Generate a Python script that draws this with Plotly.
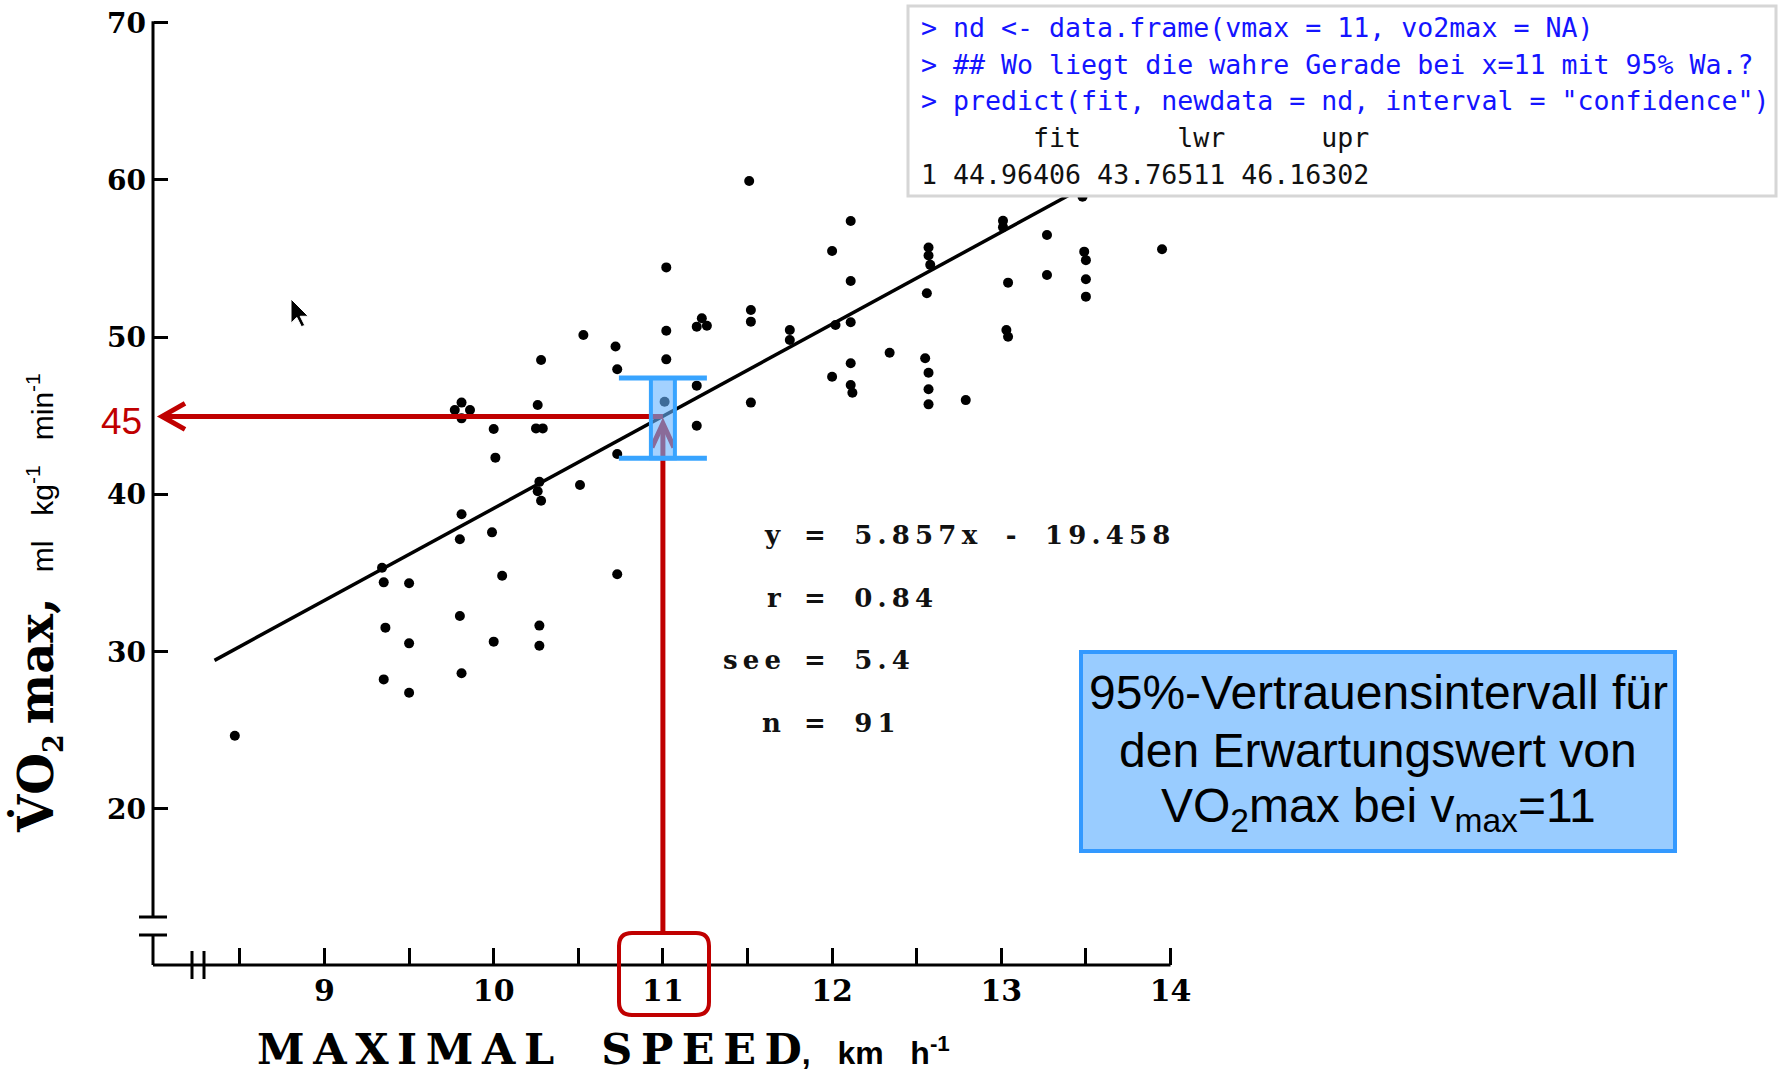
import plotly.graph_objects as go

W, H = 1779, 1074

# ---------------- data ----------------
vmax = [10.53, 10.72, 10.28, 10.73, 9.81, 9.77, 9.86, 9.81, 10.26, 10.00, 10.25, 10.29, 10.01, 10.73,
        10.27, 10.26, 10.28, 10.51, 9.81, 9.99, 9.80, 9.34, 9.35, 9.50, 10.05, 10.73, 9.80, 9.36,
        9.50, 10.00, 10.27, 10.27, 9.81, 9.35, 9.50, 8.47,
        11.51, 12.11, 12.00, 11.02, 12.11, 11.52, 11.52, 11.02, 11.20, 11.23, 11.26, 11.75, 11.75,
        12.02, 12.11, 11.02, 12.34, 12.11, 12.00, 12.11, 12.12, 11.20, 11.01, 11.52, 11.20,
        12.57, 12.57, 12.58, 13.01, 13.01, 13.27, 13.48, 13.49, 13.50, 13.95, 12.56, 13.04, 13.27,
        13.50, 13.50, 13.03, 13.04, 12.55, 12.57, 12.57, 12.57, 12.79]
vo2max = [50.14, 49.41, 48.55, 47.96, 45.84, 45.37, 45.37, 44.84, 45.69, 44.16, 44.20, 44.20, 42.34, 42.57,
          40.80, 40.20, 39.60, 40.60, 38.74, 37.59, 37.15, 35.34, 34.41, 34.35, 34.83, 34.92, 32.27, 31.53,
          30.53, 30.64, 31.66, 30.38, 28.63, 28.24, 27.39, 24.66,
          59.93, 57.39, 55.48, 54.44, 53.57, 51.73, 50.99, 50.41, 50.67, 51.20, 50.73, 50.46, 49.82,
          50.78, 50.95, 48.59, 49.01, 48.34, 47.49, 46.96, 46.47, 46.92, 45.90, 45.84, 44.37,
          55.70, 55.20, 54.60, 57.40, 57.00, 56.50, 58.93, 55.44, 54.90, 55.59, 52.79, 53.47, 53.96,
          53.68, 52.58, 50.46, 50.03, 48.66, 47.74, 46.69, 45.73, 46.00]

line_vmax = [8.35, 13.6]          # regression line ends
line_vo2 = [29.45, 60.2]

x_query = 11                      # vmax = 11
fit_value = 44.96406              # predicted VO2max
bar_low = 42.3                    # drawn interval ends (as painted)
bar_high = 47.4
label_value = "45"

x_tickvals = [9, 10, 11, 12, 13, 14]
x_ticktext = ["9", "10", "11", "12", "13", "14"]
x_minor_tickvals = [8.5, 9.5, 10.5, 11.5, 12.5, 13.5]
y_tickvals = [20, 30, 40, 50, 60, 70]
y_ticktext = ["20", "30", "40", "50", "60", "70"]

r_input_lines = ['> nd <- data.frame(vmax = 11, vo2max = NA)',
                 '> ## Wo liegt die wahre Gerade bei x=11 mit 95% Wa.?',
                 '> predict(fit, newdata = nd, interval = "confidence")']
r_output_lines = ['       fit      lwr      upr',
                  '1 44.96406 43.76511 46.16302']

stat_names = ["y", "r", "see", "n"]
stat_values = ["= 5.857x - 19.458", "= 0.84", "= 5.4", "= 91"]

info_lines = ["95%-Vertrauensintervall für",
              "den Erwartungswert von",
              "VO<sub>2</sub>max bei v<sub>max</sub>=11"]

# ---------------- pixel calibration of the picture ----------------
PX_X9, PX_PER_X = 324.5, 169.2     # x = 9 at px 324.5
PY_Y70, PX_PER_Y = 22.7, 15.725    # y = 70 at py 22.7
AXIS_PX, AXIS_PY = 153, 965        # y-axis line / x-axis line


def X(px):
    return 9 + (px - PX_X9) / PX_PER_X


def Y(py):
    return 70 - (py - PY_Y70) / PX_PER_Y


def P(px, py):
    return px / W, 1 - py / H


def spaced(s):
    return "\u2009".join("\u00a0\u00a0" if c == " " else c for c in s)


def pre(s):
    return s.replace("&", "&amp;").replace("<", "&lt;").replace(">", "&gt;").replace(" ", "\u00a0")


RED = "#C00000"
BLUE_LINE = "#38A4FF"

fig = go.Figure()
fig.add_trace(go.Scatter(x=line_vmax, y=line_vo2, mode="lines",
                         line=dict(color="black", width=3.5), hoverinfo="skip"))
fig.add_trace(go.Scatter(x=vmax, y=vo2max, mode="markers",
                         marker=dict(color="black", size=10, line=dict(width=0))))

shapes = []
xa = X(AXIS_PX)
ya = Y(AXIS_PY)
# hand-drawn axes with breaks
shapes.append(dict(type="line", x0=xa, x1=xa, y0=70.1, y1=Y(917), line=dict(color="black", width=3)))
shapes.append(dict(type="line", x0=xa, x1=xa, y0=Y(935), y1=ya, line=dict(color="black", width=3)))
for py in (917, 935):
    shapes.append(dict(type="line", x0=X(139), x1=X(167), y0=Y(py), y1=Y(py), line=dict(color="black", width=3)))
shapes.append(dict(type="line", x0=xa, x1=14, y0=ya, y1=ya, line=dict(color="black", width=3)))
for px in (192, 204):
    shapes.append(dict(type="line", x0=X(px), x1=X(px), y0=Y(951), y1=Y(979), line=dict(color="black", width=3)))

# red arrows (below the translucent interval bar)
tip_x = X(162)
shapes.append(dict(type="line", x0=x_query, x1=tip_x + 0.02, y0=fit_value, y1=fit_value,
                   line=dict(color=RED, width=5)))
dx, dy = 23 / PX_PER_X, 13 / PX_PER_Y
shapes.append(dict(type="path", path=f"M {tip_x+dx},{fit_value+dy} L {tip_x},{fit_value} L {tip_x+dx},{fit_value-dy}",
                   line=dict(color=RED, width=5)))
v_tip = fit_value - 7 / PX_PER_Y
v_bottom = Y(933)
shapes.append(dict(type="line", x0=x_query, x1=x_query, y0=v_bottom, y1=v_tip - 0.1,
                   line=dict(color=RED, width=5)))
dx2, dy2 = 11 / PX_PER_X, 24 / PX_PER_Y
shapes.append(dict(type="path", path=f"M {x_query-dx2},{v_tip-dy2} L {x_query},{v_tip} L {x_query+dx2},{v_tip-dy2}",
                   line=dict(color=RED, width=5)))

# rounded red box around the "11" tick label
xl, xr_, yt, yb = X(619), X(709), Y(933), Y(1015)
rx, ry = 13 / PX_PER_X, 13 / PX_PER_Y
shapes.append(dict(type="path", line=dict(color=RED, width=4),
                   path=(f"M {xl+rx},{yt} L {xr_-rx},{yt} Q {xr_},{yt} {xr_},{yt-ry} L {xr_},{yb+ry} "
                         f"Q {xr_},{yb} {xr_-rx},{yb} L {xl+rx},{yb} Q {xl},{yb} {xl},{yb+ry} "
                         f"L {xl},{yt-ry} Q {xl},{yt} {xl+rx},{yt} Z")))

# interval bar
hw, cw = 12 / PX_PER_X, 44 / PX_PER_X
shapes.append(dict(type="rect", x0=x_query - hw, x1=x_query + hw, y0=bar_low, y1=bar_high,
                   fillcolor="rgba(102,179,255,0.6)", line=dict(color=BLUE_LINE, width=4)))
for yv in (bar_low, bar_high):
    shapes.append(dict(type="line", x0=x_query - cw, x1=x_query + cw, y0=yv, y1=yv,
                       line=dict(color=BLUE_LINE, width=5)))

# R console box
bx0, by0 = P(908, 6)
bx1, by1 = P(1776, 196)
shapes.append(dict(type="rect", xref="paper", yref="paper", x0=bx0, x1=bx1, y0=by1, y1=by0,
                   fillcolor="white", line=dict(color="#D6D6D6", width=3)))
# info box
ix0, iy0 = P(1081, 652)
ix1, iy1 = P(1675, 851)
shapes.append(dict(type="rect", xref="paper", yref="paper", x0=ix0, x1=ix1, y0=iy1, y1=iy0,
                   fillcolor="#99CCFF", line=dict(color="#3399FF", width=4)))

# mouse cursor
cur = [(0, 0), (0, 21), (5, 16), (9, 24), (12, 23), (8, 15), (15, 15)]
pts = [P(291 + 1.15 * a, 299 + 1.15 * b) for a, b in cur]
path = "M " + " L ".join(f"{u},{v}" for u, v in pts) + " Z"
shapes.append(dict(type="path", xref="paper", yref="paper", path=path,
                   fillcolor="black", line=dict(color="white", width=1)))

for s in shapes:
    s.setdefault("xref", "x")
    s.setdefault("yref", "y")
    s.setdefault("layer", "above")

ann = []
# y-axis title
ytitle = ("V\u0307O<sub><span style='font-size:27px'>2</span></sub>\u2009max,"
          "<span style='font-family:Liberation Sans;font-size:30px;font-weight:normal'>"
          "\u00a0\u00a0\u00a0ml\u00a0\u00a0\u00a0kg<sup>-1</sup>\u00a0\u00a0\u00a0min<sup>-1</sup></span>")
ax_, ay_ = P(38, 603)
ann.append(dict(xref="paper", yref="paper", x=ax_, y=ay_, text=ytitle, textangle=-90, showarrow=False,
                xanchor="center", yanchor="middle",
                font=dict(family="DejaVu Serif", size=48, color="black", weight="bold")))
# x-axis title
thin = "\u2009"
xt_main = thin.join(c if c != " " else "\u00a0\u00a0" for c in "MAXIMAL SPEED")
xtitle = (xt_main + "<span style='font-family:Liberation Sans;font-size:32px'>,\u00a0\u00a0\u00a0km"
          "\u00a0\u00a0\u00a0h<sup>-1</sup></span>")
tx, ty = P(255, 1049)
ann.append(dict(xref="paper", yref="paper", x=tx, y=ty, text=xtitle, showarrow=False,
                xanchor="left", yanchor="middle",
                font=dict(family="DejaVu Serif", size=43, color="black", weight="bold")))
# red 45 label
lx, ly = P(121, 421)
ann.append(dict(xref="paper", yref="paper", x=lx, y=ly, text=label_value, showarrow=False,
                xanchor="center", yanchor="middle",
                font=dict(family="Liberation Sans", size=37, color=RED)))
# regression statistics
for i, (nm, val) in enumerate(zip(stat_names, stat_values)):
    py = 535 + i * 62.7
    nx, ny = P(783, py)
    ann.append(dict(xref="paper", yref="paper", x=nx, y=ny, text=spaced(nm), showarrow=False,
                    xanchor="right", yanchor="middle",
                    font=dict(family="DejaVu Serif", size=26, color="#111111", weight="bold")))
    vx, vy = P(802, py)
    ann.append(dict(xref="paper", yref="paper", x=vx, y=vy, text=spaced(val), showarrow=False,
                    xanchor="left", yanchor="middle",
                    font=dict(family="DejaVu Serif", size=26, color="#111111", weight="bold")))
# R console text
r_all = [(t, "#1414FF") for t in r_input_lines] + [(t, "#111111") for t in r_output_lines]
for i, (t, col) in enumerate(r_all):
    rx_, ry_ = P(919, 28 + i * 36.5)
    ann.append(dict(xref="paper", yref="paper", x=rx_, y=ry_, text=pre(t), showarrow=False,
                    xanchor="left", yanchor="middle",
                    font=dict(family="DejaVu Sans Mono", size=26.6, color=col)))
# info box text
for i, t in enumerate(info_lines):
    cx, cy = P(1378, 692 + i * 58.5)
    ann.append(dict(xref="paper", yref="paper", x=cx, y=cy, text=t, showarrow=False,
                    xanchor="center", yanchor="middle", align="center",
                    font=dict(family="Liberation Sans", size=48, color="black")))

fig.update_layout(
    width=W, height=H, margin=dict(l=0, r=0, t=0, b=0, pad=0),
    paper_bgcolor="white", plot_bgcolor="white", showlegend=False,
    shapes=shapes, annotations=ann,
    xaxis=dict(range=[X(0), X(W)], anchor="free", position=(H - AXIS_PY) / H,
               showgrid=False, zeroline=False, showline=False,
               ticks="inside", ticklen=17, tickwidth=2.5, tickcolor="black",
               tickmode="array", tickvals=x_tickvals, ticktext=x_ticktext,
               minor=dict(tickmode="array", tickvals=x_minor_tickvals, ticks="inside",
                          ticklen=17, tickwidth=2.5, tickcolor="black", showgrid=False),
               tickfont=dict(family="DejaVu Serif", size=30, color="black", weight="bold"),
               ticklabelstandoff=5, fixedrange=True),
    yaxis=dict(range=[Y(H), Y(0)], anchor="free", position=AXIS_PX / W,
               showgrid=False, zeroline=False, showline=False,
               ticks="inside", ticklen=14, tickwidth=3, tickcolor="black",
               tickmode="array", tickvals=y_tickvals, ticktext=y_ticktext,
               tickfont=dict(family="DejaVu Serif", size=28, color="black", weight="bold"),
               ticklabelstandoff=7, fixedrange=True),
)

fig.write_html("out.html")
